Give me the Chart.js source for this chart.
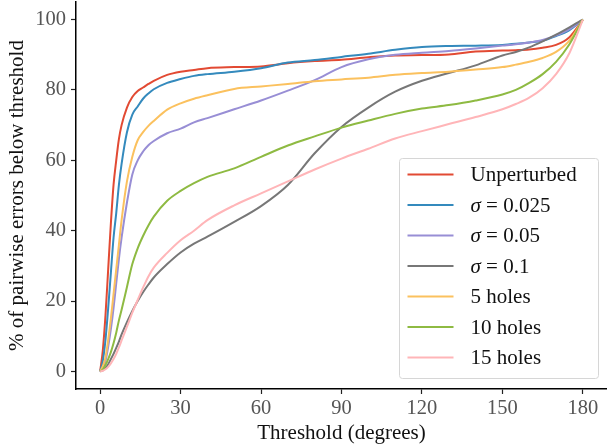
<!DOCTYPE html>
<html>
<head>
<meta charset="utf-8">
<script src="https://cdn.jsdelivr.net/npm/chart.js@4"></script>
<style>
  html, body { margin: 0; padding: 0; background: #fff; }
  #wrap { width: 607px; height: 446px; }
</style>
</head>
<body>
<div id="wrap"><canvas id="cdf-chart"></canvas></div>
<script>
// Thresholds (degrees) shared by every curve
const thresholds = [0, 1, 2, 3, 4, 5, 6, 7, 8, 10, 12, 14, 16, 18, 20, 25, 30, 35, 40, 50, 60, 70, 80, 90, 100, 110, 120, 130, 140, 150, 155, 160, 165, 170, 175, 180];

const unperturbed = [0, 6, 16, 29, 42, 53, 60, 66, 70, 75, 78, 79.7, 80.7, 81.7, 82.6, 84.3, 85.2, 85.7, 86.2, 86.5, 86.7, 87.6, 88.2, 88.6, 89.3, 89.8, 89.9, 90.1, 90.9, 91.2, 91.3, 91.5, 92, 92.8, 95, 100];
const sigma025 = [0, 3, 9, 18, 28, 38, 45, 53, 59, 68, 73, 75.3, 77.5, 79, 80.2, 82, 83.1, 84, 84.5, 85.2, 86.2, 87.8, 88.5, 89.4, 90.3, 91.4, 92.2, 92.5, 92.6, 92.8, 93.1, 93.5, 94, 95.3, 97, 100];
const sigma05 = [0, 1, 3, 7, 12, 18, 25, 32, 38, 48, 56, 60, 62.5, 64.3, 65.5, 67.7, 69, 70.8, 72, 74.5, 77, 79.8, 82.8, 86.5, 88.7, 90, 90.6, 91.1, 91.8, 92.6, 93, 93.5, 94.2, 95.5, 97.3, 100];
const sigma1 = [0, 0.3, 1, 2, 3.5, 5, 6.7, 8.5, 10.5, 14, 17.2, 20, 22.5, 24.7, 26.7, 30.5, 33.8, 36.3, 38.3, 42.5, 47, 53, 62, 69.5, 75, 79.5, 82.6, 84.8, 87, 89.8, 90.8, 92.1, 93.8, 95.7, 97.8, 100];
const holes5 = [0, 1.5, 4, 9, 15, 22, 29, 36, 43, 54, 61, 65.7, 68, 69.8, 71.2, 74.4, 76.2, 77.5, 78.5, 80.3, 81, 81.7, 82.5, 83, 83.5, 84.3, 84.8, 85.2, 85.8, 86.5, 87.2, 88, 89.1, 90.8, 94, 100];
const holes10 = [0, 0.5, 1.8, 3.5, 5.5, 8, 11, 14.5, 17.5, 24, 30.5, 35, 38.5, 41.5, 44, 48.5, 51.3, 53.5, 55.3, 57.7, 61, 64.2, 66.8, 69.3, 71.3, 73.2, 74.7, 75.7, 77, 78.7, 80, 82, 84.5, 88, 93, 100];
const holes15 = [0, 0.2, 0.6, 1.3, 2.3, 3.5, 5, 6.8, 8.8, 12.7, 16.7, 20.3, 23.8, 27, 29.5, 33.7, 37.3, 40, 43, 47.2, 50.6, 54, 57.4, 60.5, 63.3, 66.2, 68.3, 70.3, 72.3, 74.5, 76, 77.8, 80.5, 84.5, 90.5, 100];

const seriesLabels = ['Unperturbed', 'σ = 0.025', 'σ = 0.05', 'σ = 0.1', '5 holes', '10 holes', '15 holes'];
const seriesValues = [unperturbed, sigma025, sigma05, sigma1, holes5, holes10, holes15];
const seriesColors = ['#E24A33', '#348ABD', '#988ED5', '#777777', '#FBC15E', '#8EBA42', '#FFB5B8'];

const xTicks = [0, 30, 60, 90, 120, 150, 180];
const yTicks = [0, 20, 40, 60, 80, 100];

const serif = '"Liberation Serif", "Times New Roman", serif';

// legend drawn inside the plot area, bottom right (like matplotlib)
const insideLegend = {
    id: 'insideLegend',
    afterDatasetsDraw(chart) {
        const { ctx, chartArea } = chart;
        const w = 199, h = 220, rowH = 30.5;
        const x0 = chartArea.right - 8.5 - w;
        const y0 = chartArea.bottom - 10.5 - h;
        ctx.save();
        ctx.beginPath();
        ctx.roundRect(x0, y0, w, h, 3);
        ctx.fillStyle = 'rgba(255,255,255,0.85)';
        ctx.fill();
        ctx.lineWidth = 1;
        ctx.strokeStyle = '#d6d6d6';
        ctx.stroke();

        chart.data.datasets.forEach(function(ds, i) {
            const cy = y0 + 16 + i * rowH;
            ctx.beginPath();
            ctx.moveTo(x0 + 8, cy);
            ctx.lineTo(x0 + 54, cy);
            ctx.lineWidth = 2;
            ctx.strokeStyle = ds.borderColor;
            ctx.stroke();

            ctx.fillStyle = '#111';
            ctx.textBaseline = 'middle';
            let tx = x0 + 71;
            let label = ds.label;
            if (label.charAt(0) === 'σ') {
                ctx.font = 'italic 21px ' + serif;
                ctx.fillText('σ', tx, cy + 1);
                tx += ctx.measureText('σ').width;
                label = label.slice(1);
            }
            ctx.font = '21px ' + serif;
            ctx.fillText(label, tx, cy + 1);
        });
        ctx.restore();
    }
};

new Chart(document.getElementById('cdf-chart'), {
    type: 'line',
    data: {
        labels: thresholds,
        datasets: seriesValues.map(function(vals, i) {
            return {
                label: seriesLabels[i],
                data: vals.map(function(v, j) { return { x: thresholds[j], y: v }; }),
                borderColor: seriesColors[i],
                backgroundColor: seriesColors[i],
                borderWidth: 2,
                pointRadius: 0,
                cubicInterpolationMode: 'monotone',
                fill: false,
                order: seriesValues.length - i
            };
        })
    },
    options: {
        responsive: true,
        maintainAspectRatio: false,
        animation: false,
        layout: { padding: { top: 2, right: 0, left: 0, bottom: 0 } },
        plugins: {
            legend: { display: false },
            tooltip: { enabled: false }
        },
        scales: {
            x: {
                type: 'linear',
                min: -9,
                max: 189,
                afterBuildTicks: function(scale) {
                    scale.ticks = xTicks.map(function(v) { return { value: v }; });
                },
                afterFit: function(scale) {
                    scale.height = 57;
                    scale.paddingLeft = 0;
                    scale.paddingRight = 0;
                },
                grid: { drawOnChartArea: false, tickLength: 5, tickColor: '#222', tickWidth: 1.2 },
                border: { color: '#000', width: 1.5 },
                ticks: { color: '#555', padding: 2, font: { family: serif, size: 20.5 }, maxRotation: 0 },
                title: { display: true, text: 'Threshold (degrees)', color: '#111', padding: 0, font: { family: serif, size: 21 } }
            },
            y: {
                min: -5,
                max: 105,
                afterBuildTicks: function(scale) {
                    scale.ticks = yTicks.map(function(v) { return { value: v }; });
                },
                afterFit: function(scale) {
                    scale.width = 76;
                    scale.paddingTop = 0;
                    scale.paddingBottom = 0;
                },
                grid: { drawOnChartArea: false, tickLength: 5, tickColor: '#222', tickWidth: 1.2 },
                border: { color: '#000', width: 1.5 },
                ticks: { color: '#555', padding: 5, font: { family: serif, size: 20.5 } },
                title: { display: true, text: '% of pairwise errors below threshold', color: '#111', padding: { top: 5, bottom: 0 }, font: { family: serif, size: 21 } }
            }
        }
    },
    plugins: [insideLegend]
});
</script>
</body>
</html>
